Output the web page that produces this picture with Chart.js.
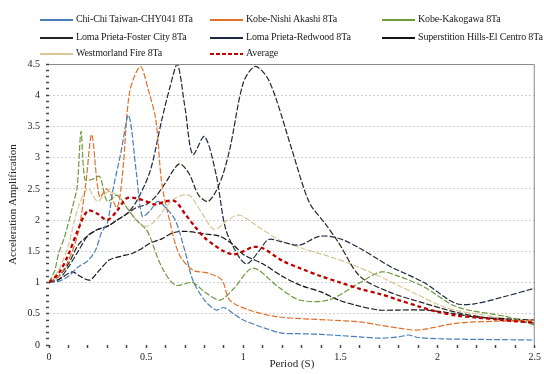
<!DOCTYPE html>
<html>
<head>
<meta charset="utf-8">
<script src="https://cdn.jsdelivr.net/npm/chart.js@4"></script>
<style>
  html, body { margin: 0; padding: 0; background: #fff; }
  #wrap { position: relative; width: 544px; height: 374px; overflow: hidden; }
  #chart { position: absolute; left: 0; top: 0; }
  .key { position: absolute; font: 10px "Liberation Serif", serif; letter-spacing: -0.15px; color: #222; white-space: nowrap; height: 12px; line-height: 12px; }
  .key span.swatch { position: absolute; left: 0; top: 6px; width: 33px; height: 1.6px; }
  .key span.name { position: absolute; left: 36px; top: 0; }
</style>
</head>
<body>
<div id="wrap">
  <canvas id="chart" width="544" height="374"></canvas>
</div>
<script>
// spectral amplification per record, period (s) vs ratio
const chichiT = [0, 0.05, 0.1, 0.15, 0.2, 0.24, 0.27, 0.3, 0.33, 0.37, 0.41, 0.45, 0.48, 0.52, 0.56, 0.6, 0.65, 0.7, 0.74, 0.8, 0.86, 0.9, 0.95, 1.0, 1.1, 1.2, 1.3, 1.4, 1.5, 1.6, 1.7, 1.8, 1.85, 1.9, 2.0, 2.2, 2.5];
const chichiA = [1, 1.02, 1.1, 1.25, 1.35, 1.52, 1.8, 1.95, 2.5, 3.08, 3.68, 2.75, 2.06, 2.15, 2.3, 2.2, 2.0, 1.5, 1.04, 0.72, 0.56, 0.6, 0.5, 0.4, 0.28, 0.19, 0.18, 0.17, 0.15, 0.13, 0.11, 0.13, 0.16, 0.12, 0.1, 0.09, 0.08];

const nishiT = [0, 0.05, 0.1, 0.15, 0.19, 0.22, 0.26, 0.3, 0.35, 0.38, 0.415, 0.47, 0.51, 0.55, 0.58, 0.62, 0.67, 0.74, 0.82, 0.89, 0.93, 1.03, 1.18, 1.44, 1.6, 1.7, 1.8, 1.9, 2.1, 2.3, 2.5];
const nishiA = [1, 1.1, 1.35, 1.8, 2.6, 3.37, 2.37, 2.5, 2.2, 2.8, 4.05, 4.46, 4.1, 3.6, 2.6, 2.0, 1.45, 1.2, 1.15, 1.04, 0.72, 0.56, 0.45, 0.4, 0.37, 0.32, 0.27, 0.24, 0.35, 0.38, 0.4];

const kakoT = [0, 0.03, 0.05, 0.08, 0.12, 0.145, 0.165, 0.185, 0.22, 0.26, 0.3, 0.35, 0.4, 0.45, 0.5, 0.52, 0.58, 0.65, 0.74, 0.8, 0.88, 0.95, 1.05, 1.18, 1.29, 1.44, 1.59, 1.71, 1.8, 1.93, 2.1, 2.36, 2.5];
const kakoA = [1, 1.2, 1.47, 1.73, 2.2, 2.54, 3.42, 2.65, 2.65, 2.7, 2.3, 2.4, 2.2, 2.0, 1.85, 1.73, 1.25, 0.96, 1.0, 0.85, 0.72, 0.9, 1.23, 0.93, 0.72, 0.72, 0.98, 1.17, 1.1, 0.93, 0.61, 0.45, 0.32];

const fosterT = [0, 0.05, 0.1, 0.15, 0.2, 0.25, 0.3, 0.35, 0.4, 0.45, 0.5, 0.55, 0.6, 0.67, 0.72, 0.77, 0.82, 0.88, 0.93, 1.0, 1.06, 1.12, 1.17, 1.25, 1.34, 1.42, 1.49, 1.6, 1.75, 1.93, 2.1, 2.22, 2.35, 2.5];
const fosterA = [1, 1.1, 1.3, 1.6, 1.75, 1.85, 1.9, 2.0, 2.1, 2.2, 2.25, 2.38, 2.6, 2.9, 2.75, 2.4, 2.3, 2.6, 3.13, 4.2, 4.46, 4.3, 3.93, 3.13, 2.28, 1.95, 1.64, 1.1, 0.85, 0.67, 0.52, 0.45, 0.4, 0.35];

const redwoodT = [0, 0.05, 0.1, 0.15, 0.2, 0.25, 0.3, 0.35, 0.4, 0.45, 0.52, 0.58, 0.62, 0.66, 0.7, 0.74, 0.8, 0.86, 0.91, 0.98, 1.02, 1.08, 1.13, 1.2, 1.29, 1.39, 1.49, 1.6, 1.7, 1.76, 1.93, 2.09, 2.19, 2.35, 2.5];
const redwoodA = [1, 1.05, 1.25, 1.5, 1.75, 1.85, 1.9, 2.0, 2.1, 2.3, 2.78, 3.6, 4.1, 4.5, 3.8, 3.05, 3.34, 2.73, 1.85, 1.4, 1.3, 1.5, 1.69, 1.65, 1.6, 1.74, 1.71, 1.55, 1.36, 1.25, 1.0, 0.67, 0.66, 0.78, 0.91];

const superT = [0, 0.05, 0.12, 0.16, 0.21, 0.26, 0.31, 0.37, 0.43, 0.48, 0.52, 0.58, 0.64, 0.7, 0.8, 0.88, 0.95, 1.0, 1.1, 1.2, 1.3, 1.4, 1.49, 1.6, 1.7, 1.8, 1.93, 2.05, 2.19, 2.35, 2.5];
const superA = [1, 1.05, 1.17, 1.1, 1.04, 1.2, 1.36, 1.42, 1.47, 1.55, 1.63, 1.7, 1.8, 1.82, 1.78, 1.74, 1.6, 1.45, 1.3, 1.1, 0.95, 0.85, 0.72, 0.62, 0.56, 0.56, 0.56, 0.52, 0.45, 0.42, 0.4];

const westT = [0, 0.05, 0.1, 0.15, 0.2, 0.25, 0.3, 0.35, 0.4, 0.45, 0.5, 0.55, 0.6, 0.65, 0.72, 0.79, 0.85, 0.92, 0.98, 1.05, 1.18, 1.3, 1.44, 1.55, 1.7, 1.8, 1.9, 2.0, 2.1, 2.2, 2.35, 2.5];
const westA = [1, 1.2, 1.6, 2.2, 2.5, 2.3, 2.45, 2.4, 2.2, 2.0, 1.9, 2.0, 2.2, 2.35, 2.4, 2.1, 1.85, 2.0, 2.08, 1.95, 1.69, 1.55, 1.42, 1.3, 1.1, 0.95, 0.8, 0.65, 0.55, 0.5, 0.42, 0.36];

const avgT = [0, 0.05, 0.1, 0.15, 0.2, 0.25, 0.3, 0.35, 0.4, 0.45, 0.5, 0.55, 0.6, 0.65, 0.7, 0.75, 0.8, 0.85, 0.9, 0.95, 1.0, 1.05, 1.1, 1.2, 1.3, 1.4, 1.5, 1.6, 1.7, 1.8, 1.9, 2.0, 2.1, 2.2, 2.3, 2.4, 2.5];
const avgA = [1, 1.15, 1.45, 1.85, 2.15, 2.1, 2.0, 2.15, 2.35, 2.35, 2.3, 2.25, 2.3, 2.3, 2.1, 1.9, 1.72, 1.6, 1.5, 1.45, 1.5, 1.57, 1.55, 1.35, 1.22, 1.1, 1.0, 0.9, 0.82, 0.72, 0.62, 0.53, 0.47, 0.44, 0.41, 0.38, 0.36];

const recordNames = [
  'Chi-Chi Taiwan-CHY041 8Ta', 'Kobe-Nishi Akashi 8Ta', 'Kobe-Kakogawa 8Ta',
  'Loma Prieta-Foster City 8Ta', 'Loma Prieta-Redwood 8Ta', 'Superstition Hills-El Centro 8Ta',
  'Westmorland Fire 8Ta', 'Average'
];
const xTickLabels = ['0', '0.5', '1', '1.5', '2', '2.5'];
const yTickLabels = ['0', '0.5', '1', '1.5', '2', '2.5', '3', '3.5', '4', '4.5'];

const periods = [chichiT, nishiT, kakoT, fosterT, redwoodT, superT, westT, avgT];
const amps = [chichiA, nishiA, kakoA, fosterA, redwoodA, superA, westA, avgA];
const colors = ['#4a7ebb', '#e0702a', '#6e9a3c', '#2a2420', '#1c2a44', '#141414', '#d6c795', '#c00000'];

const serif = '"Liberation Serif", serif';

const datasets = recordNames.map((name, i) => {
  const isAvg = i === recordNames.length - 1;
  return {
    label: name,
    data: periods[i].map((t, k) => ({ x: t, y: amps[i][k] })),
    borderColor: colors[i],
    borderWidth: isAvg ? 2.3 : 1.2,
    borderDash: isAvg ? [4, 3] : [6, 2],
    pointRadius: 0,
    tension: 0.3,
    fill: false,
    order: isAvg ? 0 : 1
  };
});

// three-column key above the plot
const wrap = document.getElementById('wrap');
const keyCols = [40, 210, 382];
const keyRows = [13, 31, 47];
recordNames.forEach((name, i) => {
  const el = document.createElement('div');
  el.className = 'key';
  el.style.left = keyCols[i % 3] + 'px';
  el.style.top = keyRows[Math.floor(i / 3)] + 'px';
  const swatch = document.createElement('span');
  swatch.className = 'swatch';
  if (i === recordNames.length - 1) {
    swatch.style.background = 'repeating-linear-gradient(90deg, ' + colors[i] + ' 0 4px, transparent 4px 6px)';
  } else {
    swatch.style.background = colors[i];
  }
  const label = document.createElement('span');
  label.className = 'name';
  label.textContent = name;
  el.appendChild(swatch);
  el.appendChild(label);
  wrap.appendChild(el);
});

// top and right edges of the plot box
const frame = {
  id: 'frame',
  afterDraw (chart) {
    const { ctx, chartArea: a } = chart;
    ctx.save();
    ctx.strokeStyle = '#8a8a8a';
    ctx.lineWidth = 1;
    ctx.beginPath();
    ctx.moveTo(a.left, a.top + 0.5);
    ctx.lineTo(a.right - 0.5, a.top + 0.5);
    ctx.lineTo(a.right - 0.5, a.bottom);
    ctx.stroke();
    ctx.restore();
  }
};

const isHalf = v => Math.round(v * 10) % 5 === 0;

new Chart(document.getElementById('chart'), {
  type: 'line',
  data: { datasets },
  plugins: [frame],
  options: {
    responsive: false,
    animation: false,
    layout: { padding: { top: 64, right: 7, left: 0, bottom: 0 } },
    plugins: { legend: { display: false }, tooltip: { enabled: false } },
    scales: {
      x: {
        type: 'linear',
        min: 0,
        max: 2.5,
        afterFit (scale) { scale.height = 29; },
        border: { display: false },
        grid: { drawOnChartArea: false, drawTicks: true, tickLength: 3, color: 'rgba(0,0,0,0)', tickColor: '#444', tickWidth: 1.5 },
        ticks: {
          stepSize: 0.1,
          autoSkip: false,
          maxRotation: 0,
          padding: 3,
          color: '#222',
          font: { family: serif, size: 10 },
          callback: v => isHalf(v) ? xTickLabels[Math.round(v * 2)] : ''
        },
        title: { display: true, text: 'Period (S)', color: '#222', font: { family: serif, size: 11 }, padding: { top: 0, bottom: 3 } }
      },
      y: {
        min: 0,
        max: 4.5,
        afterFit (scale) { scale.width = 49; },
        border: { display: false, dash: [2, 2] },
        grid: {
          drawTicks: true,
          tickLength: 3,
          tickWidth: 1.5,
          tickColor: '#444',
          color: ctx => {
            const v = Math.round(ctx.tick.value * 10);
            return (v % 5 === 0 && v > 0 && v < 45) ? '#cfcfcf' : 'rgba(0,0,0,0)';
          }
        },
        ticks: {
          stepSize: 0.1,
          autoSkip: false,
          padding: 6,
          color: '#222',
          font: { family: serif, size: 10 },
          callback: v => isHalf(v) ? yTickLabels[Math.round(v * 2)] : ''
        },
        title: { display: true, text: 'Acceleration Amplification', color: '#222', font: { family: serif, size: 11 }, padding: { top: 7, bottom: 0 } }
      }
    }
  }
});
</script>
</body>
</html>
